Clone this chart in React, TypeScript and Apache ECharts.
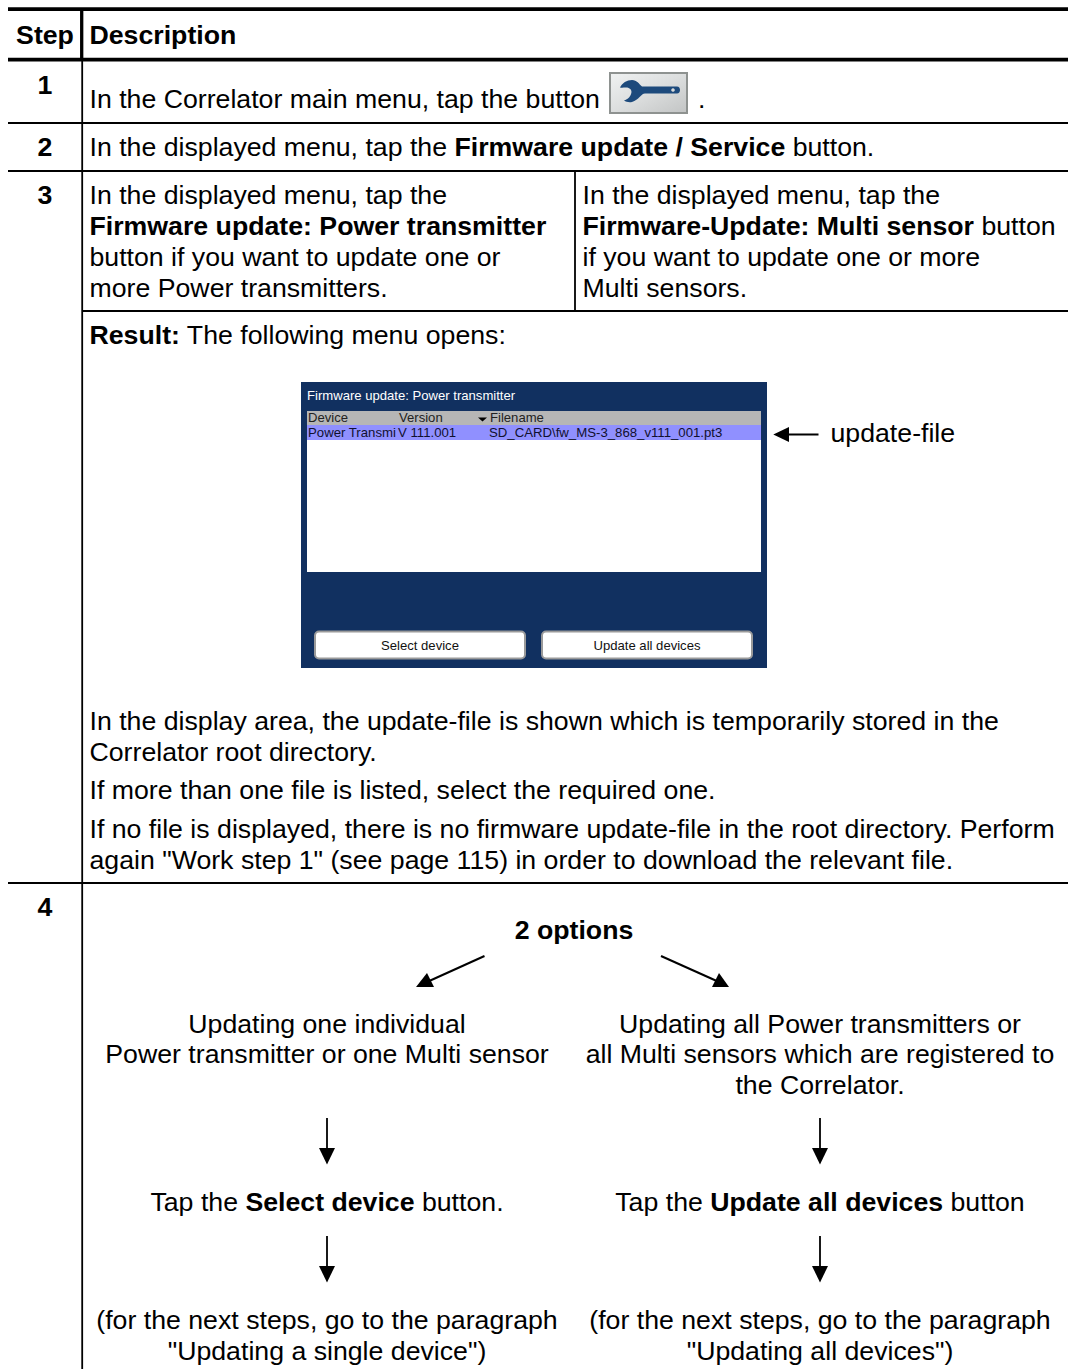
import React, { useEffect, useRef } from "react";
import * as echarts from "echarts";

// ---- content ----
const stepHeaders = ["Step", "Description"];
const stepNumbers = ["1", "2", "3", "4"];
const step1 = "In the Correlator main menu, tap the button";
const step2 = "In the displayed menu, tap the {b|Firmware update / Service} button.";
const step3Left = [
  "In the displayed menu, tap the",
  "{b|Firmware update: Power transmitter}",
  "button if you want to update one or",
  "more Power transmitters.",
];
const step3Right = [
  "In the displayed menu, tap the",
  "{b|Firmware-Update: Multi sensor} button",
  "if you want to update one or more",
  "Multi sensors.",
];
const resultLine = "{b|Result:} The following menu opens:";
const afterScreen = [
  "In the display area, the update-file is shown which is temporarily stored in the",
  "Correlator root directory.",
  "If more than one file is listed, select the required one.",
  "If no file is displayed, there is no firmware update-file in the root directory. Perform",
  'again "Work step 1" (see page 115) in order to download the relevant file.',
];
const optionsTitle = "2 options";
const leftOption = ["Updating one individual", "Power transmitter or one Multi sensor"];
const rightOption = ["Updating all Power transmitters or", "all Multi sensors which are registered to", "the Correlator."];
const leftTap = "Tap the {b|Select device} button.";
const rightTap = "Tap the {b|Update all devices} button";
const leftNext = ["(for the next steps, go to the paragraph", '"Updating a single device")'];
const rightNext = ["(for the next steps, go to the paragraph", '"Updating all devices")'];
const screenTitle = "Firmware update: Power transmitter";
const screenColumns = ["Device", "Version", "Filename"];
const screenRow = ["Power Transmi", "V 111.001", "SD_CARD\\fw_MS-3_868_v111_001.pt3"];
const screenButtons = ["Select device", "Update all devices"];
const calloutLabel = "update-file";

const FONT = '"Liberation Sans", Arial, sans-serif';
const SIZE = 26.7;
const SMALL = 13.1;
const INK = "#000";

const WRENCH =
  "M620 87.5 C622 83 627 80 632 80 C637 80 639 84 642 86.5 L677 86.5 C681 86.5 681 93.5 677 93.5 L645 93.5 C641 93.5 639 100 632 102 C629 102.5 626 102 624 100.5 C628 99.5 631 96 631.5 92 C631.5 89 629 87.5 626 87.5 C624 87.5 622 88 620 87.5 Z";
echarts.graphic.registerShape("wrench", echarts.graphic.extendPath(WRENCH, {}));

function txt(text: string, x: number, y: number, opts: any = {}) {
  const size = opts.size ?? SIZE;
  return {
    type: "text",
    x,
    y,
    silent: true,
    style: {
      text,
      fill: opts.fill ?? INK,
      font: `${opts.bold ? "bold " : ""}${size}px ${FONT}`,
      fontFamily: FONT,
      fontSize: size,
      fontWeight: opts.bold ? "bold" : "normal",
      align: opts.align ?? "left",
      verticalAlign: "middle",
      rich: { b: { fontFamily: FONT, fontSize: size, fontWeight: "bold", fill: opts.fill ?? INK } },
    },
  };
}

function rule(x1: number, y1: number, x2: number, y2: number, w: number) {
  return { type: "line", silent: true, shape: { x1, y1, x2, y2 }, style: { stroke: INK, lineWidth: w } };
}

function head(points: number[][]) {
  return { type: "polygon", silent: true, shape: { points }, style: { fill: INK } };
}

function downArrow(x: number, y1: number, y2: number) {
  return [rule(x, y1, x, y2 - 14, 1.8), head([[x - 8, y2 - 16.5], [x + 8, y2 - 16.5], [x, y2]])];
}

function buildGraphics() {
  const g: any[] = [];
  // table rules
  g.push(rule(8, 9.2, 1068, 9.2, 3.7));
  g.push(rule(8, 59.7, 1068, 59.7, 3.7));
  g.push(rule(81.7, 10, 81.7, 60, 3.3));
  g.push(rule(82.2, 60, 82.2, 1369, 1.8));
  g.push(rule(8, 123, 1068, 123, 2));
  g.push(rule(8, 171, 1068, 171, 2));
  g.push(rule(82, 311, 1068, 311, 2));
  g.push(rule(8, 883, 1068, 883, 2));
  g.push(rule(575, 171, 575, 311, 1.8));

  // headers and step numbers
  g.push(txt(stepHeaders[0], 45, 35, { bold: true, align: "center" }));
  g.push(txt(stepHeaders[1], 89.5, 35, { bold: true }));
  [85, 147, 195, 907].forEach((y, i) => g.push(txt(stepNumbers[i], 45, y, { bold: true, align: "center" })));

  // step 1, button
  g.push(txt(step1, 89.5, 99));
  g.push({
    type: "rect",
    silent: true,
    shape: { x: 610, y: 73, width: 77, height: 40 },
    style: {
      fill: new echarts.graphic.LinearGradient(0, 0, 1, 1, [
        { offset: 0, color: "#f0f2f2" },
        { offset: 0.5, color: "#dcdede" },
        { offset: 1, color: "#c2c4c4" },
      ]),
      stroke: "#8e9290",
      lineWidth: 2,
    },
  });
  g.push({ type: "wrench", silent: true, style: { fill: "#1d4a7c" } });
  g.push({ type: "circle", silent: true, shape: { cx: 673, cy: 90, r: 1.8 }, style: { fill: "#d8dada" } });
  g.push(txt(".", 698, 99));

  // step 2, 3
  g.push(txt(step2, 89.5, 147));
  [195, 226, 257, 288].forEach((y, i) => {
    g.push(txt(step3Left[i], 89.5, y));
    g.push(txt(step3Right[i], 582.5, y));
  });
  g.push(txt(resultLine, 89.5, 335));

  // screenshot
  g.push({ type: "rect", silent: true, shape: { x: 301, y: 382, width: 466, height: 286 }, style: { fill: "#113060" } });
  g.push({ type: "rect", silent: true, shape: { x: 307, y: 411, width: 454, height: 161 }, style: { fill: "#fff" } });
  g.push({ type: "rect", silent: true, shape: { x: 307, y: 411, width: 454, height: 14 }, style: { fill: "#b6b6b6" } });
  g.push({ type: "rect", silent: true, shape: { x: 307, y: 425, width: 454, height: 15 }, style: { fill: "#9090ff" } });
  g.push(txt(screenTitle, 307, 395.5, { size: SMALL, fill: "#fff" }));
  [308, 399, 490].forEach((x, i) => g.push(txt(screenColumns[i], x, 417.5, { size: SMALL, fill: "#222" })));
  [308, 398, 489].forEach((x, i) => g.push(txt(screenRow[i], x, 432.5, { size: 13.2, fill: "#101030" })));
  g.push(head([[478, 417.5], [487, 417.5], [482.5, 421.5]]));
  [
    [315, 210],
    [542, 210],
  ].forEach(([x, w], i) => {
    g.push({
      type: "rect",
      silent: true,
      shape: { x, y: 631.5, width: w, height: 27, r: 4 },
      style: { fill: "#fff", stroke: "#9a9a9a", lineWidth: 2 },
    });
    g.push(txt(screenButtons[i], x + w / 2, 645, { size: SMALL, align: "center", fill: "#111" }));
  });

  // callout
  g.push(rule(786, 434.5, 818.5, 434.5, 1.8));
  g.push(head([[773.3, 434.5], [789, 427], [789, 442]]));
  g.push(txt(calloutLabel, 830.5, 433));

  // paragraph under the screen
  [721, 752, 790, 829, 860].forEach((y, i) => g.push(txt(afterScreen[i], 89.5, y)));

  // step 4
  g.push(txt(optionsTitle, 574, 930, { bold: true, align: "center" }));
  g.push(rule(484.5, 956, 427, 982, 2));
  g.push(head([[416, 987], [434, 987], [427, 973]]));
  g.push(rule(661, 956, 719, 982, 2));
  g.push(head([[729, 987], [712, 987], [719, 973]]));

  [1024, 1054].forEach((y, i) => g.push(txt(leftOption[i], 327, y, { align: "center" })));
  [1024, 1054, 1085].forEach((y, i) => g.push(txt(rightOption[i], 820, y, { align: "center" })));
  g.push(...downArrow(327, 1118, 1164.5));
  g.push(...downArrow(820, 1118, 1164.5));
  g.push(txt(leftTap, 327, 1202, { align: "center" }));
  g.push(txt(rightTap, 820, 1202, { align: "center" }));
  g.push(...downArrow(327, 1236, 1282.5));
  g.push(...downArrow(820, 1236, 1282.5));
  [1320, 1351].forEach((y, i) => {
    g.push(txt(leftNext[i], 327, y, { align: "center" }));
    g.push(txt(rightNext[i], 820, y, { align: "center" }));
  });
  return g;
}

export default function App() {
  const ref = useRef<HTMLDivElement>(null);
  useEffect(() => {
    const chart = echarts.init(ref.current!, undefined, { renderer: "svg" });
    chart.setOption({ animation: false, backgroundColor: "#fff", graphic: { elements: buildGraphics() } });
    return () => chart.dispose();
  }, []);
  return <div ref={ref} style={{ position: "fixed", left: 0, top: 0, width: 1068, height: 1369 }} />;
}
